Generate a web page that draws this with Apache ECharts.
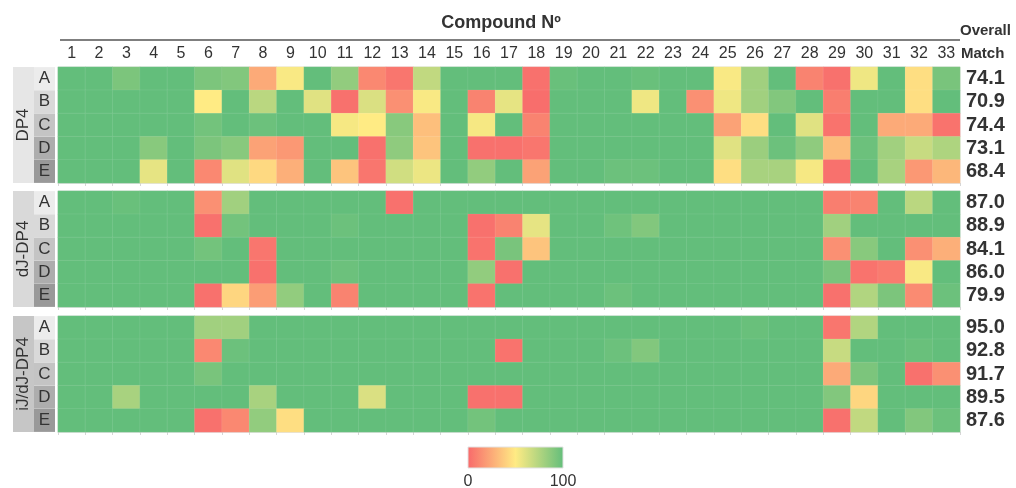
<!DOCTYPE html>
<html>
<head>
<meta charset="utf-8">
<script src="https://cdn.jsdelivr.net/npm/echarts@6/dist/echarts.min.js"></script>
<style>
html,body{margin:0;padding:0;background:#fff;}
#chart{width:1016px;height:488px;}
</style>
</head>
<body>
<div id="chart"></div>
<script>
// ---------- data ----------
const compounds = ['1','2','3','4','5','6','7','8','9','10','11','12','13','14','15','16','17','18','19','20','21','22','23','24','25','26','27','28','29','30','31','32','33'];
const rowLetters = ['A','B','C','D','E'];
const groupNames = ['DP4','dJ-DP4','iJ/dJ-DP4'];

const overallDP4   = [74.1, 70.9, 74.4, 73.1, 68.4];
const overallDJ    = [87.0, 88.9, 84.1, 86.0, 79.9];
const overallIJDJ  = [95.0, 92.8, 91.7, 89.5, 87.6];

const dp4 = [
  [100,100,92,100,100,92,90,25,52,100,85,   12,5,70,100,100,100,3,98,100,100,98,     100,100,52,80,100,10,3,55,100,45,93],
  [100,100,100,100,100,50,100,72,100,60,3,  62,15,52,100,10,58,2,100,100,100,55,     100,15,55,80,90,100,8,100,100,45,100],
  [100,100,100,100,100,95,100,97,100,100,53, 50,88,33,100,53,100,10,100,100,100,100,  100,100,22,45,100,60,4,100,25,25,4],
  [100,100,100,88,100,92,88,22,18,100,100,  3,86,35,100,3,3,5,100,100,100,100,       100,100,60,82,97,86,32,97,80,68,76],
  [100,100,100,58,100,12,60,43,27,100,35,   5,65,56,100,85,100,22,100,100,97,97,     100,100,45,78,78,53,3,100,78,18,30]
];
const dJdp4 = [
  [100,100,98,100,100,15,80,100,100,100,100, 100,3,100,100,100,100,100,100,100,100,100, 100,100,100,100,100,100,8,10,100,72,100],
  [100,100,100,100,100,3,95,100,100,100,97,  100,100,100,100,3,10,58,100,100,96,90,     100,100,100,100,100,100,80,100,100,100,100],
  [100,100,100,100,100,95,100,5,100,100,100, 100,100,100,100,4,93,35,100,100,100,100,   100,100,100,100,100,100,15,88,100,15,27],
  [100,100,100,100,100,100,100,3,100,100,97, 100,100,100,100,85,3,100,100,100,100,100,  100,100,100,100,100,100,93,4,7,52,100],
  [100,100,100,100,100,3,42,20,85,100,10,    100,100,100,100,4,100,100,100,100,97,100,  100,100,100,100,100,100,3,75,92,13,97]
];
const iJdJdp4 = [
  [100,100,100,100,100,80,80,100,100,100,100, 100,100,100,100,100,100,100,100,100,100,100, 100,100,100,98,100,100,5,75,100,100,100],
  [100,100,100,100,100,12,97,100,100,100,100, 100,100,100,100,100,4,100,100,100,97,90,     100,100,100,100,100,100,68,100,100,98,100],
  [100,100,100,100,100,93,100,100,100,100,100, 100,100,100,100,100,100,100,100,100,100,100, 100,100,100,100,100,100,25,92,100,3,15],
  [100,100,78,100,100,100,100,78,100,100,100,  62,100,100,100,3,3,100,100,100,100,100,     100,100,100,100,100,100,90,42,100,100,100],
  [100,100,100,100,100,3,12,85,45,100,100,     100,100,100,100,95,100,100,100,100,100,100,  100,100,100,100,100,100,3,70,100,90,97]
];

const scaleColors = ['#F8696B', '#FFEB84', '#63BE7B'];
const scaleMin = 0, scaleMax = 100;

// ---------- styling ----------
const FONT = '"Liberation Sans", Arial, Helvetica, sans-serif';
const letterBg = ['#ececec', '#d9d9d9', '#c4c4c4', '#adadad', '#999999'];
const groupBg = ['#e6e6e6', '#d9d9d9', '#c6c6c6'];
const panels = [dp4, dJdp4, iJdJdp4];
const overalls = [overallDP4, overallDJ, overallIJDJ];
const gridTops = [67, 191, 316];
const GRID_LEFT = 58, GRID_W = 902, GRID_H = 116;

const grids = [], xAxes = [], yAxes = [], series = [];
const letterRich = {};
rowLetters.forEach((l, i) => {
  letterRich['r' + i] = {
    width: 21, height: 23, lineHeight: 23, align: 'center', verticalAlign: 'middle',
    backgroundColor: letterBg[i], color: '#333', fontSize: 17, fontFamily: FONT
  };
});

panels.forEach((rows, p) => {
  grids.push({
    left: GRID_LEFT, top: gridTops[p], width: GRID_W, height: GRID_H,
    show: true, borderColor: '#e2e2e2', borderWidth: 1, containLabel: false
  });
  // bottom axis with small ticks at column boundaries
  xAxes.push({
    type: 'category', gridIndex: p, data: compounds, position: 'bottom',
    axisLine: { show: true, lineStyle: { color: '#e2e2e2', width: 1 } },
    axisTick: { show: true, length: 3, lineStyle: { color: '#d6d6d6' }, interval: 0 },
    axisLabel: { show: false }, splitLine: { show: false }
  });
  const letterAxisIndex = yAxes.length;
  yAxes.push({
    type: 'category', gridIndex: p, data: rowLetters, inverse: true, position: 'left', offset: 0,
    axisLine: { show: false }, axisTick: { show: false }, splitLine: { show: false },
    axisLabel: {
      margin: 3, interval: 0,
      formatter: (v, idx) => '{r' + idx + '|' + v + '}',
      rich: letterRich
    }
  });
  yAxes.push({
    type: 'category', gridIndex: p, data: [groupNames[p]], position: 'left', offset: 0,
    axisLine: { show: false }, axisTick: { show: false }, splitLine: { show: false },
    axisLabel: {
      margin: 24, rotate: 90, interval: 0,
      formatter: v => '{g|' + v + '}',
      rich: { g: { width: GRID_H, height: 21, lineHeight: 21, align: 'center', verticalAlign: 'middle',
                   backgroundColor: groupBg[p], color: '#333', fontSize: 17, fontFamily: FONT } }
    }
  });
  yAxes.push({
    type: 'category', gridIndex: p, data: overalls[p].map(v => v.toFixed(1)), inverse: true,
    position: 'right', offset: 0,
    axisLine: { show: false }, axisTick: { show: false }, splitLine: { show: false },
    axisLabel: { margin: 6, interval: 0, color: '#333', fontSize: 20, fontWeight: 'bold', fontFamily: FONT }
  });
  const data = [];
  rows.forEach((row, r) => row.forEach((v, c) => data.push([c, r, v])));
  series.push({
    type: 'heatmap', xAxisIndex: p, yAxisIndex: letterAxisIndex, data: data,
    itemStyle: { borderWidth: 0.5, borderColor: 'rgba(255,255,255,0.15)' },
    emphasis: { disabled: true }, label: { show: false }, progressive: 0
  });
});

// top axis with compound numbers (first panel)
xAxes.push({
  type: 'category', gridIndex: 0, data: compounds, position: 'top',
  axisLine: { show: false }, axisTick: { show: false }, splitLine: { show: false },
  axisLabel: { margin: 5, interval: 0, color: '#333', fontSize: 16, fontFamily: FONT }
});

const option = {
  animation: false,
  backgroundColor: '#ffffff',
  grid: grids,
  xAxis: xAxes,
  yAxis: yAxes,
  visualMap: {
    type: 'continuous', show: false, min: scaleMin, max: scaleMax,
    seriesIndex: [0, 1, 2], inRange: { color: scaleColors }
  },
  series: series,
  graphic: [
    { type: 'text', x: 501, y: 23, style: { text: 'Compound Nº', align: 'center', verticalAlign: 'middle',
        fill: '#333', fontSize: 18, fontWeight: 'bold', fontFamily: FONT } },
    { type: 'line', shape: { x1: 60, y1: 40, x2: 960, y2: 40 }, style: { stroke: '#555', lineWidth: 1.5 } },
    { type: 'text', x: 960, y: 31, style: { text: 'Overall', align: 'left', verticalAlign: 'middle',
        fill: '#333', fontSize: 15, fontWeight: 'bold', fontFamily: FONT } },
    { type: 'text', x: 961, y: 54, style: { text: 'Match', align: 'left', verticalAlign: 'middle',
        fill: '#333', fontSize: 15, fontWeight: 'bold', fontFamily: FONT } },
    { type: 'rect', shape: { x: 468, y: 447, width: 95, height: 21 },
      style: { fill: new echarts.graphic.LinearGradient(0, 0, 1, 0,
        scaleColors.map((c, i) => ({ offset: i / (scaleColors.length - 1), color: c }))),
        stroke: '#e2e2e2', lineWidth: 1 } },
    { type: 'text', x: 468, y: 482, style: { text: String(scaleMin), align: 'center', verticalAlign: 'middle',
        fill: '#333', fontSize: 16, fontFamily: FONT } },
    { type: 'text', x: 563, y: 482, style: { text: String(scaleMax), align: 'center', verticalAlign: 'middle',
        fill: '#333', fontSize: 16, fontFamily: FONT } }
  ]
};

const chart = echarts.init(document.getElementById('chart'), null, { renderer: 'canvas' });
chart.setOption(option);
</script>
</body>
</html>
